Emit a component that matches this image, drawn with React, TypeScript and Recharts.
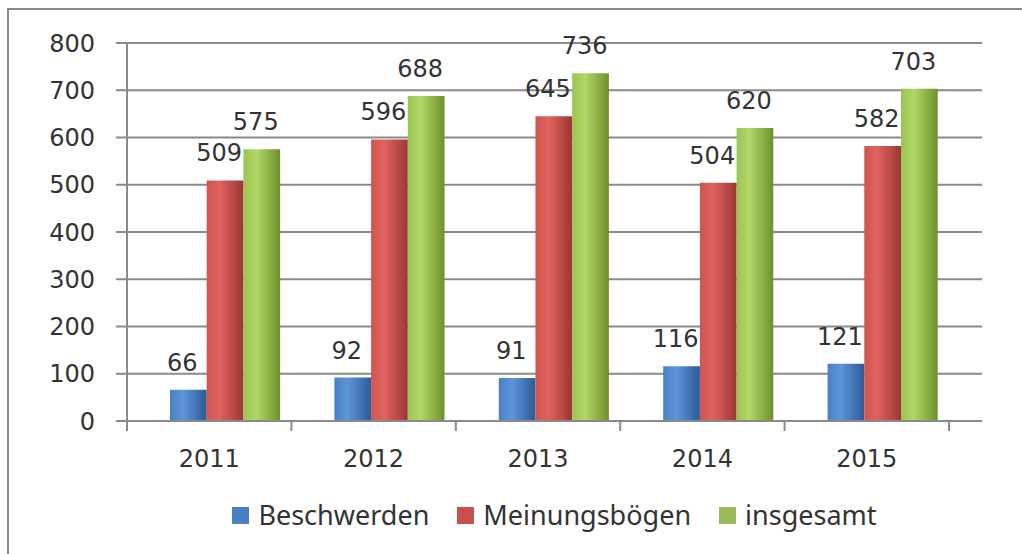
import { BarChart, Bar, XAxis, YAxis, CartesianGrid, Legend, LabelList } from "recharts";

const years = ["2011", "2012", "2013", "2014", "2015"];
const beschwerden = [66, 92, 91, 116, 121];
const meinungsboegen = [509, 596, 645, 504, 582];
const insgesamt = [575, 688, 736, 620, 703];
const yTicks = [0, 100, 200, 300, 400, 500, 600, 700, 800];

const data = years.map((year, i) => ({
  year,
  beschwerden: beschwerden[i],
  meinungsboegen: meinungsboegen[i],
  insgesamt: insgesamt[i],
}));

const series = [
  { key: "beschwerden", name: "Beschwerden", legend: "#4a7fc4", stops: ["#4a7fc4", "#5e96da", "#2d5a96"] },
  { key: "meinungsboegen", name: "Meinungsbögen", legend: "#c9504c", stops: ["#cf5450", "#e1635f", "#9c3634"] },
  { key: "insgesamt", name: "insgesamt", legend: "#9bbb59", stops: ["#9cc452", "#b1d868", "#6e902b"] },
];

const numFont = '"DejaVu Sans", Verdana, sans-serif';
const gray = "#8a8a8a";

// category ticks sit on the band edges, label in the middle
const XTick = (props: any) => {
  const { x, y, payload, index } = props;
  const half = payload?.offset || 82.2;
  return (
    <g>
      <line x1={x - half} y1={y} x2={x - half} y2={y + 10} stroke={gray} strokeWidth={2} />
      {index === years.length - 1 && (
        <line x1={x + half} y1={y} x2={x + half} y2={y + 10} stroke={gray} strokeWidth={2} />
      )}
      <text x={x} y={y + 46} textAnchor="middle" fontFamily={numFont} fontSize={24} fill="#333">
        {payload.value}
      </text>
    </g>
  );
};

const ValueLabel = (props: any) => {
  const { x, y, width, value } = props;
  return (
    <text x={x + width / 2 - 6} y={y - 19} textAnchor="middle" fontFamily={numFont} fontSize={24} fill="#333">
      {value}
    </text>
  );
};

const renderLegend = () => (
  <div
    style={{
      display: "flex",
      justifyContent: "center",
      alignItems: "center",
      height: 30,
      lineHeight: "30px",
      fontFamily: '"Noto Sans", sans-serif',
      fontSize: 27,
      color: "#333",
    }}
  >
    {series.map((s) => (
      <span key={s.key} style={{ display: "flex", alignItems: "center", margin: "0 14px" }}>
        <span style={{ width: 17, height: 17, background: s.legend, marginRight: 9, display: "inline-block" }} />
        {s.name}
      </span>
    ))}
  </div>
);

const App = () => {
  return (
    <div style={{ position: "absolute", left: 0, top: 0, width: 1022, height: 554, overflow: "hidden", background: "#fff" }}>
      <div
        style={{
          position: "absolute",
          left: 7,
          top: 8,
          width: 1030,
          height: 560,
          borderLeft: `2px solid ${gray}`,
          borderTop: `2px solid ${gray}`,
        }}
      />
      <div style={{ position: "absolute", left: 0, top: 0 }}>
        <BarChart
          width={1022}
          height={554}
          data={data}
          margin={{ top: 43, right: 40, left: 0, bottom: 24 }}
          barGap={0}
        >
          <defs>
            {series.map((s) => (
              <linearGradient key={s.key} id={`grad-${s.key}`} x1="0" y1="0" x2="1" y2="0">
                <stop offset="0%" stopColor={s.stops[0]} />
                <stop offset="35%" stopColor={s.stops[1]} />
                <stop offset="100%" stopColor={s.stops[2]} />
              </linearGradient>
            ))}
          </defs>
          <CartesianGrid vertical={false} stroke={gray} strokeWidth={2} />
          <XAxis
            xAxisId="show"
            dataKey="year"
            height={79}
            padding={{ left: 0, right: 33 }}
            axisLine={{ stroke: gray, strokeWidth: 2 }}
            tickLine={false}
            tickSize={0}
            tickMargin={0}
            tick={<XTick />}
            interval={0}
          />
          <XAxis xAxisId="bars" dataKey="year" hide height={0} padding={{ left: 16, right: 17 }} />
          <YAxis
            width={127}
            domain={[0, 800]}
            ticks={yTicks}
            interval={0}
            axisLine={{ stroke: gray, strokeWidth: 2 }}
            tickLine={{ stroke: gray, strokeWidth: 2 }}
            tickSize={11}
            tickMargin={21}
            tick={{ fontFamily: numFont, fontSize: 24, fill: "#333" }}
          />
          <Legend
            verticalAlign="bottom"
            content={renderLegend}
            wrapperStyle={{ left: 127, width: 855 }}
          />
          {series.map((s) => (
            <Bar
              key={s.key}
              xAxisId="bars"
              dataKey={s.key}
              name={s.name}
              fill={`url(#grad-${s.key})`}
              barSize={36.7}
              isAnimationActive={false}
            >
              <LabelList dataKey={s.key} content={<ValueLabel />} />
            </Bar>
          ))}
        </BarChart>
      </div>
    </div>
  );
};

export default App;
